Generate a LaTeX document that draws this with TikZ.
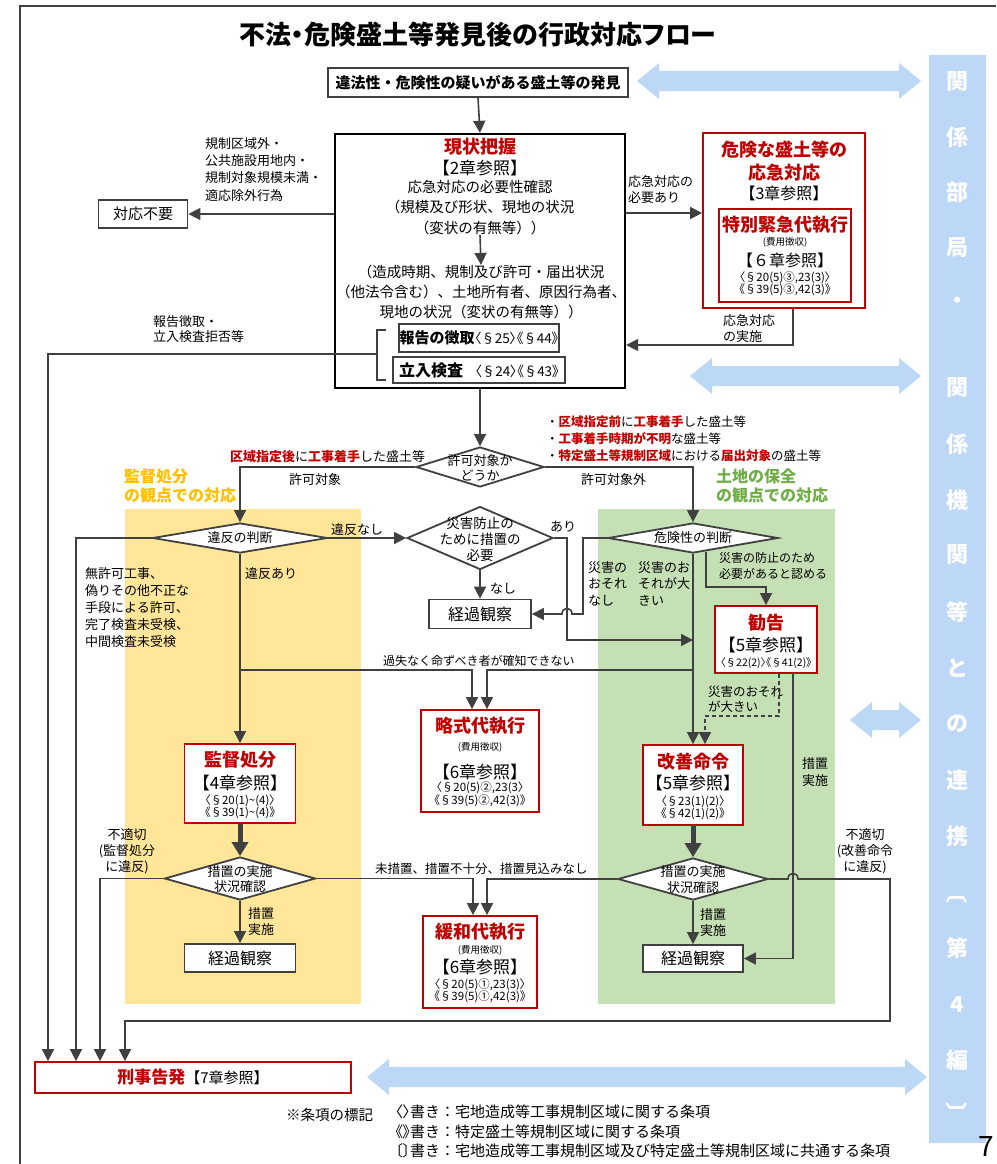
\documentclass[tikz,border=0pt]{standalone}
\usepackage{fontspec}
\setmainfont{Noto Sans CJK JP}
\newfontfamily\pr{Noto Sans CJK JP}[RawFeature=+palt]
\usetikzlibrary{arrows.meta,shapes.geometric,calc}
\definecolor{lc}{HTML}{404040}
\definecolor{rd}{HTML}{C00000}
\definecolor{yel}{HTML}{FFE699}
\definecolor{grn}{HTML}{C5E0B4}
\definecolor{org}{HTML}{FFC000}
\definecolor{gtx}{HTML}{70AD47}
\definecolor{blu}{HTML}{BDD7F7}
\newcommand\fs[2]{\fontsize{#1}{#2}\selectfont}
\newcommand\blarrow[3]{\fill[blu] (#1,#3) -- (#1+22,#3-18) -- (#1+22,#3-10) -- (#2-22,#3-10) -- (#2-22,#3-18) -- (#2,#3) -- (#2-22,#3+18) -- (#2-22,#3+10) -- (#1+22,#3+10) -- (#1+22,#3+18) -- cycle;}
\begin{document}
\begin{tikzpicture}[x=1pt,y=-1pt,
  gbox/.style={draw=lc,line width=1.8pt,fill=white,inner sep=0pt},
  rbox/.style={draw=rd,line width=1.8pt,fill=white,inner sep=0pt},
  dia/.style={diamond,draw=lc,line width=1.8pt,fill=white,inner sep=0pt},
  arr/.style={draw=lc,line width=1.6pt,-{Triangle[length=12pt,width=12pt]}},
  ln/.style={draw=lc,line width=1.6pt},
  tharr/.style={draw=lc,line width=5pt,-{Triangle[length=14pt,width=16pt]}},
  txt/.style={inner sep=0pt},
  lbl/.style={inner sep=0pt,align=left,anchor=north west},
  rt/.style={inner sep=0pt,text=rd,font=\bfseries\fs{18}{20}},
  secref/.style={inner sep=0pt,font=\pr\fs{11.5}{12}},
  chap/.style={inner sep=0pt,font=\fs{17}{19}},
  coltxt/.style={inner sep=0pt,text=white,font=\bfseries\fs{22}{24}},
]
\useasboundingbox (0,0) rectangle (996,1164);
\fill[white] (0,0) rectangle (996,1164);
% frame
\draw[lc,line width=1.3pt] (20,1164) -- (20,6) -- (996,6);
% panels
\fill[yel] (125,509) rectangle (361,1004);
\fill[grn] (598,509) rectangle (835,1004);
% blue column and arrows
\fill[blu] (929,55) rectangle (986,1143);
\blarrow{637}{921}{81}
\blarrow{690}{921}{376}
\blarrow{850}{921}{720}
\blarrow{367}{927}{1077}
\foreach \ch/\yy [count=\i] in {関/82,係/137,部/192,局/248,・/303,関/388,係/444,機/500,関/555,等/612,と/668,の/724,連/780,携/836,第/948,4/1005,編/1060}
  \node[coltxt] (v\i) at (957,\yy) {\ch};
\node[coltxt,rotate=-90] (vb1) at (957,892) {〔};
\node[coltxt,rotate=-90] (vb2) at (957,1113) {〕};
\node[txt,anchor=north west,font=\fs{28}{28}] (pg) at (978,1136) {7};

% title
\node[txt,font=\pr\bfseries\fs{26}{28}] (title) at (478,35) {不法・危険盛土等発見後の行政対応フロー};
\node[gbox,minimum width=300pt,minimum height=29pt,font=\bfseries\fs{15}{17}] (find) at (478,82.5) {違法性・危険性の疑いがある盛土等の発見};

% status box
\node[gbox,draw=black,line width=2.3pt,minimum width=290pt,minimum height=254pt] (status) at (480,261) {};
\node[rt] (st1) at (480,147) {現状把握};
\node[chap] (st2) at (480,168) {【2章参照】};
\node[txt,font=\fs{14.5}{20.5},align=center] (st3) at (480,207.5) {応急対応の必要性確認\\（規模及び形状、現地の状況\\（変状の有無等））};
\node[txt,font=\fs{14.5}{20},align=center] (st4) at (481,292) {（造成時期、規制及び許可・届出状況\\（他法令含む）、土地所有者、原因行為者、\\現地の状況（変状の有無等））};
\node[gbox,minimum width=160pt,minimum height=28pt] (rep) at (479,338) {{\bfseries\fs{15}{17}報告の徴取}{\pr\fs{13.5}{15}〈§25〉《§44》}};
\node[gbox,minimum width=172pt,minimum height=26pt] (insp) at (479,370) {{\bfseries\fs{16}{17}立入検査}\hspace{12pt}{\pr\fs{13.5}{15}〈§24〉《§43》}};
\draw[arr] (st3.south) -- (st4.north);
\draw[ln] (386,330) -- (377,330) -- (377,380) -- (386,380);
\coordinate (br) at (377,354);

% no response
\node[gbox,minimum width=89pt,minimum height=28pt,font=\fs{15}{17}] (noreq) at (143,214) {対応不要};
\node[lbl,font=\fs{13}{17.3}] (noreqL) at (205,137) {規制区域外・\\公共施設用地内・\\規制対象規模未満・\\適応除外行為};
\node[lbl,font=\fs{13}{15.5}] (repL) at (153,315) {報告徴取・\\立入検査拒否等};

% emergency
\node[rbox,minimum width=162pt,minimum height=175pt] (emerg) at (784,220.5) {};
\node[rbox,minimum width=132pt,minimum height=93pt] (tokub) at (785,255.5) {};
\node[rt] (em1) at (784,150) {危険な盛土等の};
\node[rt] (em2) at (784,173) {応急対応};
\node[txt,font=\fs{16}{18}] (em3) at (784,193) {【3章参照】};
\node[rt] (em4) at (785,225) {特別緊急代執行};
\node[txt,font=\fs{9.5}{11}] (em5) at (785,242) {(費用徴収)};
\node[txt,font=\fs{16}{18}] (em6) at (785,260) {【６章参照】};
\node[secref] (em7) at (785,278) {〈§20(5)③,23(3)〉};
\node[secref] (em8) at (785,290) {《§39(5)③,42(3)》};
\node[lbl,font=\fs{13}{16}] (emL) at (628,175) {応急対応の\\必要あり};
\node[lbl,font=\fs{13}{16}] (retL) at (723,314) {応急対応\\の実施};

% permit diamond
\node[dia,minimum width=128pt,minimum height=40pt] (permit) at (480,467) {};
\node[txt,font=\fs{13}{15},align=center] (permitT) at (480,468) {許可対象か\\どうか};
\node[txt,anchor=west,font=\fs{13}{15}] (permL) at (230,457) {\textcolor{rd}{\bfseries 区域指定後}に\textcolor{rd}{\bfseries 工事着手}した盛土等};
\node[txt,anchor=west,font=\fs{13}{15}] (permA) at (289,480) {許可対象};
\node[txt,anchor=west,font=\fs{13}{15}] (permB) at (581,480) {許可対象外};
\node[lbl,font=\fs{12.5}{16.8}] (permR) at (546,416) {・\textcolor{rd}{\bfseries 区域指定前}に\textcolor{rd}{\bfseries 工事着手}した盛土等\\・\textcolor{rd}{\bfseries 工事着手時期が不明}な盛土等\\・\textcolor{rd}{\bfseries 特定盛土等規制区域}における\textcolor{rd}{\bfseries 届出対象}の盛土等};
\node[lbl,text=org,font=\bfseries\fs{16}{19}] (kanL) at (124,469) {監督処分\\の観点での対応};
\node[lbl,text=gtx,font=\bfseries\fs{16}{19}] (tochiL) at (716,469) {土地の保全\\の観点での対応};

% left column
\node[dia,minimum width=175pt,minimum height=30pt] (ihan) at (240,538) {};
\node[txt,font=\fs{13}{15}] (ihanT) at (240,538) {違反の判断};
\node[txt,anchor=west,font=\fs{13}{15}] (ihanN) at (331,530) {違反なし};
\node[txt,anchor=west,font=\fs{13}{15}] (ihanA) at (245,574) {違反あり};
\node[lbl,font=\fs{13}{17}] (muk) at (85,567) {無許可工事、\\偽りその他不正な\\手段による許可、\\完了検査未受検、\\中間検査未受検};
\node[rbox,minimum width=111pt,minimum height=79pt] (kantoku) at (240,783.5) {};
\node[rt] (kt1) at (240,760) {監督処分};
\node[chap] (kt2) at (240,783) {【4章参照】};
\node[secref] (kt3) at (240,801) {〈§20(1)\textasciitilde(4)〉};
\node[secref] (kt4) at (240,812.5) {《§39(1)\textasciitilde(4)》};
\node[dia,minimum width=151pt,minimum height=43pt] (check1) at (240,878.5) {};
\node[txt,font=\fs{13}{15.5},align=center] (check1T) at (240,879) {措置の実施\\状況確認};
\node[gbox,minimum width=111pt,minimum height=28pt,font=\fs{16}{18}] (keika1) at (240,958) {経過観察};
\node[lbl,font=\fs{13}{16.5}] (sochiL) at (248,907) {措置\\実施};
\node[txt,align=center,font=\fs{13}{16}] (futekiL) at (127,851) {不適切\\(監督処分\\に違反)};

% center column
\node[dia,minimum width=146pt,minimum height=63pt] (bousai) at (480,538) {};
\node[txt,font=\fs{13.5}{16},align=center] (bousaiT) at (480,539) {災害防止の\\ために措置の\\必要};
\node[txt,anchor=west,font=\fs{13}{15}] (nasiL) at (490,589) {なし};
\node[gbox,minimum width=102pt,minimum height=29pt,font=\fs{16}{18}] (keika2) at (480,614) {経過観察};
\node[txt,font=\fs{13}{15}] (ariL) at (563,527) {あり};
\node[txt,anchor=west,font=\fs{12}{14}] (kashitsu) at (383,661) {過失なく命ずべき者が確知できない};
\node[rbox,minimum width=118pt,minimum height=102pt] (ryaku) at (480,761) {};
\node[rt] (ry1) at (480,726) {略式代執行};
\node[txt,font=\fs{9.5}{11}] (ry2) at (480,747) {(費用徴収)};
\node[chap] (ry3) at (480,772) {【6章参照】};
\node[secref] (ry4) at (480,788) {〈§20(5)②,23(3〉};
\node[secref] (ry5) at (480,801) {《§39(5)②,42(3)》};
\node[txt,anchor=west,font=\fs{12.5}{14}] (misochi) at (375,869) {未措置、措置不十分、措置見込みなし};
\node[rbox,minimum width=114pt,minimum height=92pt] (kanwa) at (480,962) {};
\node[rt] (kw1) at (480,932) {緩和代執行};
\node[txt,font=\fs{9.5}{11}] (kw2) at (480,950) {(費用徴収)};
\node[chap] (kw3) at (480,967) {【6章参照】};
\node[secref] (kw4) at (480,985) {〈§20(5)①,23(3)〉};
\node[secref] (kw5) at (480,997) {《§39(5)①,42(3)》};

% right column
\node[dia,minimum width=170pt,minimum height=30pt] (danger) at (693,538) {};
\node[txt,font=\fs{13}{15}] (dangerT) at (693,538) {危険性の判断};
\node[lbl,font=\fs{13}{16.5}] (nasiR) at (588,561) {災害の\\おそれ\\なし};
\node[lbl,font=\fs{13}{16.5}] (ookiR) at (638,561) {災害のお\\それが大\\きい};
\node[lbl,font=\fs{12}{16}] (hitsuyoL) at (719,552) {災害の防止のため\\必要があると認める};
\node[rbox,minimum width=102pt,minimum height=67pt] (kankoku) at (766,639.5) {};
\node[rt] (kk1) at (766,623) {勧告};
\node[chap] (kk2) at (766,645) {【5章参照】};
\node[secref,font=\pr\fs{10.5}{12}] (kk3) at (766,663) {〈§22(2)〉《§41(2)》};
\node[lbl,font=\fs{12.5}{15}] (ookiL2) at (708,686) {災害のおそれ\\が大きい};
\node[lbl,font=\fs{13}{17}] (sochiR) at (802,757) {措置\\実施};
\node[rbox,minimum width=100pt,minimum height=80pt] (kaizen) at (693,785) {};
\node[rt] (kz1) at (693,762) {改善命令};
\node[chap] (kz2) at (693,783) {【5章参照】};
\node[secref] (kz3) at (693,802) {〈§23(1)(2)〉};
\node[secref] (kz4) at (693,814) {《§42(1)(2)》};
\node[dia,minimum width=150pt,minimum height=42pt] (check2) at (693,879) {};
\node[txt,font=\fs{13}{15.5},align=center] (check2T) at (693,879.5) {措置の実施\\状況確認};
\node[gbox,minimum width=100pt,minimum height=27pt,font=\fs{16}{18}] (keika3) at (693,958.5) {経過観察};
\node[lbl,font=\fs{13}{16.5}] (sochiM) at (700,908) {措置\\実施};
\node[txt,align=center,font=\fs{13}{16}] (futekiR) at (865,851) {不適切\\(改善命令\\に違反)};

% bottom
\node[rbox,minimum width=316pt,minimum height=31pt] (keiji) at (193,1077.5) {\textcolor{rd}{\bfseries\fs{17}{19}刑事告発}{\fs{15}{17}【7章参照】}};
\node[txt,anchor=west,font=\fs{14.5}{16}] (fn0) at (286,1115) {※条項の標記};
\node[lbl,font=\fs{15}{19.3}] (fn1) at (395,1105) {{\pr 〈〉}書き：宅地造成等工事規制区域に関する条項\\{\pr 《》}書き：特定盛土等規制区域に関する条項\\{\pr 〔〕}書き：宅地造成等工事規制区域及び特定盛土等規制区域に共通する条項};

% coordinates
\coordinate (c48) at (48,0);
\coordinate (c76) at (76,0);
\coordinate (c100) at (100,0);
\coordinate (c125) at (125,0);
\coordinate (y213) at (0,213);
\coordinate (ret) at (793,345);
\coordinate (y670) at (0,670);
\coordinate (x472) at (472,0);
\coordinate (x487) at (487,0);
\coordinate (x473) at (473,0);
\coordinate (x567) at (567,0);
\coordinate (y640) at (0,640);
\coordinate (x583) at (583,0);
\coordinate (y614) at (0,614);
\coordinate (y587) at (0,587);
\coordinate (x779) at (779,0);
\coordinate (y716) at (0,716);
\coordinate (x705) at (705,0);
\coordinate (x793) at (793,0);
\coordinate (x890) at (890,0);
\coordinate (y1021) at (0,1021);
\path ($(danger.south)!0.15!(danger.east)$) coordinate (dp);

% connectors
\draw[arr] (find.south) -- (status.north);
\draw[arr] (status.west |- noreq) -- (noreq.east);
\draw[arr] (br) -| (keiji.north -| c48);
\draw[arr] (status.east |- y213) -- (emerg.west |- y213);
\draw[arr] (emerg.south -| ret) |- (status.east |- ret);
\draw[arr] (status.south) -- (permit.north);
\draw[arr] (permit.west) -| (ihan.north);
\draw[arr] (permit.east) -| (danger.north);
\draw[arr] (ihan.west) -| (keiji.north -| c76);
\draw[arr] (ihan.east) -- (bousai.west);
\draw[arr] (ihan.south) -- (kantoku.north);
\draw[arr] (ihan.south |- y670) -| (ryaku.north -| x472);
\draw[arr] (danger.south |- y670) -| (ryaku.north -| x487);
\draw[arr] (bousai.south) -- (keika2.north);
\draw[arr] (bousai.east) -| (x567 |- y640) -- (danger.south |- y640);
\draw[arr] (danger.west) -| (x583 |- y614) -- (572,614) .. controls (572,606.5) and (562,606.5) .. (562,614) -- (keika2.east);
\draw[arr] (danger.south) -- (kaizen.north);
\draw[arr] (dp) -- (dp |- y587) -| (kankoku.north);
\draw[arr,dash pattern=on 4pt off 3pt] (kankoku.south -| x779) |- (x705 |- y716) -- (kaizen.north -| x705);
\draw[arr] (kankoku.south -| x793) |- (keika3.east);
\draw[tharr] (kantoku.south) -- (check1.north);
\draw[arr] (check1.south) -- (keika1.north);
\draw[arr] (check1.west) -| (keiji.north -| c100);
\draw[arr] (check1.east) -| (kanwa.north -| x473);
\draw[tharr] (kaizen.south) -- (check2.north);
\draw[arr] (check2.south) -- (keika3.north);
\draw[arr] (check2.west) -| (kanwa.north -| x487);
\draw[arr] (check2.east) -- (788,879) .. controls (788,871.5) and (798,871.5) .. (798,879) -- (x890 |- check2.east) |- (c125 |- y1021) -- (keiji.north -| c125);
\end{tikzpicture}
\end{document}
